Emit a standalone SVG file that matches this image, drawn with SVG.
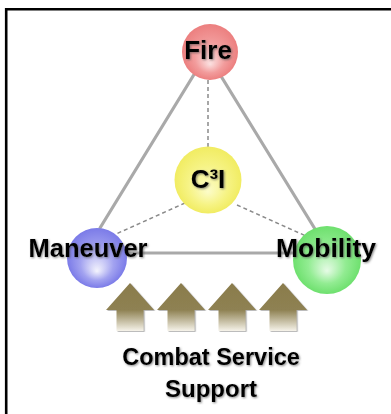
<svg xmlns="http://www.w3.org/2000/svg" width="391" height="414" viewBox="0 0 391 414">
  <defs>
    <style>
      .frame { fill: none; stroke: #000; stroke-width: 2.6; }
      .solid { stroke: #a9a9a9; stroke-width: 3.2; fill: none; stroke-linecap: round; }
      .dash { stroke: #8a8a8a; stroke-width: 1.5; fill: none; stroke-dasharray: 4 3; }
      .label { font-family: "Liberation Sans", Arial, sans-serif; font-weight: bold; fill: #000; text-anchor: middle; filter: url(#soft); }
    </style>
    <filter id="soft" x="-10%" y="-20%" width="125%" height="150%">
      <feGaussianBlur in="SourceAlpha" stdDeviation="1.1" result="b"/>
      <feOffset in="b" dx="1.3" dy="1.3" result="o"/>
      <feFlood flood-color="#555" flood-opacity="0.7"/>
      <feComposite in2="o" operator="in" result="s"/>
      <feGaussianBlur in="SourceGraphic" stdDeviation="0.35" result="t"/>
      <feMerge><feMergeNode in="s"/><feMergeNode in="t"/></feMerge>
    </filter>
    <filter id="arrowShadow" x="-20%" y="-20%" width="150%" height="150%">
      <feDropShadow dx="1.2" dy="0.8" stdDeviation="0.6" flood-color="#666" flood-opacity="0.55"/>
    </filter>
    <radialGradient id="gFire" cx="0.5" cy="0.5" r="0.5" fx="0.5" fy="0.72">
      <stop offset="0" stop-color="#fbe0e0"/>
      <stop offset="0.55" stop-color="#f29c9c"/>
      <stop offset="1" stop-color="#ec7f7f"/>
    </radialGradient>
    <radialGradient id="gC3I" cx="0.5" cy="0.5" r="0.5" fx="0.5" fy="0.68">
      <stop offset="0" stop-color="#fcfcc8"/>
      <stop offset="0.6" stop-color="#f6f384"/>
      <stop offset="1" stop-color="#f1ec62"/>
    </radialGradient>
    <radialGradient id="gMan" cx="0.5" cy="0.5" r="0.5" fx="0.5" fy="0.72">
      <stop offset="0" stop-color="#f4f4fd"/>
      <stop offset="0.55" stop-color="#a2a2f0"/>
      <stop offset="1" stop-color="#7b7be8"/>
    </radialGradient>
    <radialGradient id="gMob" cx="0.5" cy="0.5" r="0.5" fx="0.5" fy="0.66">
      <stop offset="0" stop-color="#e6fbe6"/>
      <stop offset="0.55" stop-color="#92ec92"/>
      <stop offset="1" stop-color="#6ee06e"/>
    </radialGradient>
    <linearGradient id="gArrow" gradientUnits="userSpaceOnUse" x1="0" y1="0" x2="0" y2="48">
      <stop offset="0" stop-color="#8a7c4c"/>
      <stop offset="0.56" stop-color="#8e8152"/>
      <stop offset="1" stop-color="#f6f3ea"/>
    </linearGradient>
    <path id="upArrow" d="M0,0 L24,27 H13.5 V48 H-13.5 V27 H-24 Z" fill="url(#gArrow)" filter="url(#arrowShadow)"/>
  </defs>

  <rect width="391" height="414" fill="#fff"/>
  <path class="frame" d="M6.2,414 V9.3 H391"/>

  <g id="connectors">
    <line class="solid" x1="198" y1="68" x2="100" y2="228"/>
    <line class="solid" x1="216" y1="68" x2="315" y2="229"/>
    <line class="solid" x1="120" y1="253" x2="300" y2="253"/>
    <line class="dash" x1="208" y1="80" x2="208" y2="148"/>
    <line class="dash" x1="185" y1="203" x2="116" y2="234"/>
    <line class="dash" x1="237" y1="205" x2="306" y2="236"/>
  </g>

  <g id="fire">
    <circle cx="210" cy="52" r="28" fill="url(#gFire)"/>
    <text class="label" x="208" y="59" font-size="26">Fire</text>
  </g>

  <g id="c3i">
    <circle cx="208" cy="180" r="33.5" fill="url(#gC3I)"/>
    <text class="label" x="208" y="188" font-size="26">C³I</text>
  </g>

  <g id="maneuver">
    <circle cx="97" cy="258" r="30" fill="url(#gMan)"/>
    <text class="label" x="88" y="257" font-size="25.5">Maneuver</text>
  </g>

  <g id="mobility">
    <circle cx="327" cy="260" r="34" fill="url(#gMob)"/>
    <text class="label" x="326" y="257" font-size="26.5">Mobility</text>
  </g>

  <g id="combat-service-support">
    <use href="#upArrow" x="130" y="283"/>
    <use href="#upArrow" x="181" y="283"/>
    <use href="#upArrow" x="232" y="283"/>
    <use href="#upArrow" x="283" y="283"/>
    <text class="label" x="211" y="365" font-size="23.5">Combat Service</text>
    <text class="label" x="211" y="397" font-size="24">Support</text>
  </g>
</svg>
